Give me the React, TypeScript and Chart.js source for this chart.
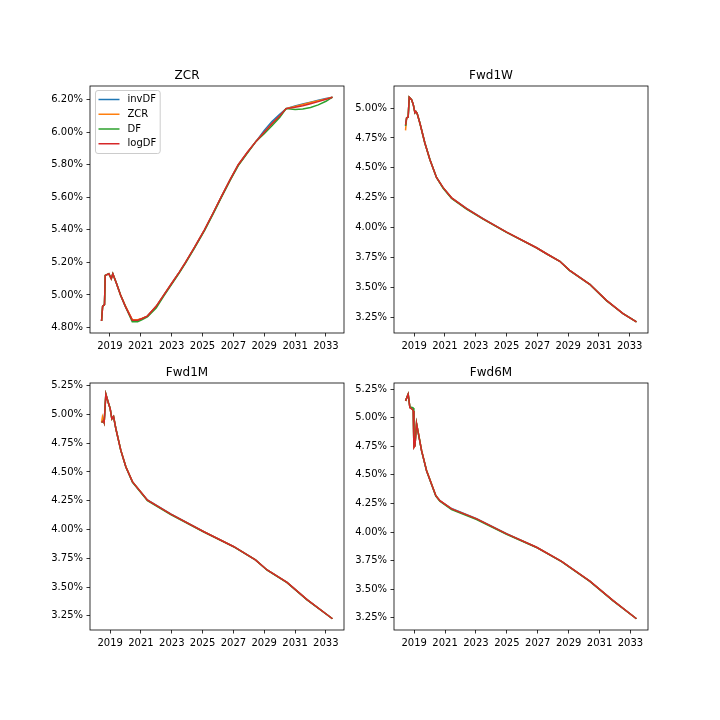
import React, { useEffect, useRef } from 'react';
import { Chart, registerables } from 'chart.js';

Chart.register(...registerables);
Chart.defaults.font.family = '"DejaVu Sans", sans-serif';

const seriesNames = ['invDF', 'ZCR', 'DF', 'logDF'];
const seriesColors = ['#1f77b4', '#ff7f0e', '#2ca02c', '#d62728'];
const xTickYears = [2019, 2021, 2023, 2025, 2027, 2029, 2031, 2033];
const zcrTicks = [4.8, 5.0, 5.2, 5.4, 5.6, 5.8, 6.0, 6.2];
const fwdTicks = [3.25, 3.5, 3.75, 4.0, 4.25, 4.5, 4.75, 5.0, 5.25];

// ---- Panel ZCR ----
const zcrYears = [2018.46, 2018.53, 2018.65, 2018.70, 2018.93, 2019.09, 2019.19, 2019.43, 2019.69, 2020.00, 2020.45, 2020.80, 2021.10, 2021.43, 2022.00, 2022.50, 2023.00, 2023.50, 2023.90, 2024.50, 2025.13, 2025.70, 2026.20, 2026.80, 2027.32, 2027.90, 2028.48, 2029.00, 2029.50, 2030.00, 2030.42, 2031.00, 2031.50, 2032.00, 2032.50, 2033.00, 2033.42];
const zcrInvDF = [4.84, 4.93, 4.94, 5.12, 5.13, 5.10, 5.13, 5.07, 5.00, 4.93, 4.845, 4.845, 4.855, 4.87, 4.93, 5.00, 5.07, 5.14, 5.20, 5.295, 5.40, 5.505, 5.60, 5.71, 5.80, 5.875, 5.945, 6.010, 6.065, 6.110, 6.145, 6.161, 6.173, 6.185, 6.196, 6.207, 6.215];
const zcrZCR = [4.84, 4.93, 4.94, 5.12, 5.13, 5.10, 5.13, 5.07, 5.00, 4.935, 4.848, 4.848, 4.857, 4.87, 4.93, 5.00, 5.07, 5.14, 5.20, 5.295, 5.40, 5.505, 5.60, 5.71, 5.80, 5.875, 5.945, 5.999, 6.054, 6.100, 6.145, 6.158, 6.170, 6.182, 6.193, 6.205, 6.215];
const zcrDF = [4.84, 4.93, 4.94, 5.12, 5.13, 5.10, 5.13, 5.07, 5.00, 4.93, 4.835, 4.835, 4.848, 4.865, 4.92, 4.995, 5.065, 5.135, 5.195, 5.29, 5.395, 5.50, 5.595, 5.705, 5.795, 5.87, 5.945, 5.990, 6.040, 6.090, 6.145, 6.140, 6.142, 6.152, 6.168, 6.190, 6.215];
const zcrLogDF = [4.84, 4.93, 4.94, 5.12, 5.13, 5.10, 5.13, 5.07, 5.00, 4.93, 4.845, 4.845, 4.855, 4.87, 4.93, 5.00, 5.07, 5.14, 5.20, 5.295, 5.40, 5.505, 5.60, 5.71, 5.80, 5.875, 5.945, 6.000, 6.052, 6.100, 6.145, 6.153, 6.163, 6.175, 6.188, 6.202, 6.215];

// ---- Panel Fwd1W ----
const fwd1wYears = [2018.44, 2018.51, 2018.61, 2018.68, 2018.83, 2018.94, 2019.05, 2019.11, 2019.19, 2019.37, 2019.69, 2020.02, 2020.45, 2020.88, 2021.43, 2022.40, 2023.48, 2025.00, 2026.95, 2027.60, 2028.46, 2029.10, 2030.41, 2031.49, 2032.57, 2033.44];
const fwd1wInvDF = [4.85, 4.917, 4.925, 5.09, 5.07, 5.03, 4.96, 4.97, 4.955, 4.875, 4.71, 4.57, 4.42, 4.335, 4.25, 4.162, 4.077, 3.964, 3.833, 3.783, 3.72, 3.644, 3.528, 3.394, 3.283, 3.215];
const fwd1wZCR = [4.813, 4.917, 4.925, 5.09, 5.07, 5.03, 4.96, 4.97, 4.955, 4.875, 4.71, 4.57, 4.42, 4.335, 4.25, 4.16, 4.075, 3.963, 3.833, 3.783, 3.72, 3.644, 3.528, 3.394, 3.283, 3.215];
const fwd1wDF = [4.85, 4.917, 4.925, 5.09, 5.07, 5.03, 4.96, 4.97, 4.955, 4.875, 4.71, 4.57, 4.42, 4.33, 4.245, 4.155, 4.072, 3.961, 3.832, 3.782, 3.72, 3.642, 3.527, 3.392, 3.282, 3.215];
const fwd1wLogDF = [4.86, 4.917, 4.925, 5.09, 5.07, 5.03, 4.96, 4.97, 4.955, 4.875, 4.71, 4.57, 4.42, 4.335, 4.25, 4.16, 4.075, 3.963, 3.833, 3.783, 3.72, 3.644, 3.528, 3.394, 3.283, 3.215];

// ---- Panel Fwd1M ----
const fwd1mYears = [2018.44, 2018.50, 2018.57, 2018.61, 2018.72, 2018.87, 2019.00, 2019.11, 2019.22, 2019.37, 2019.69, 2020.02, 2020.45, 2021.42, 2022.93, 2025.08, 2027.03, 2028.43, 2029.19, 2030.48, 2031.78, 2033.43];
const fwd1mInvDF = [4.93, 4.935, 4.947, 4.93, 5.175, 5.106, 5.05, 4.96, 4.98, 4.875, 4.687, 4.543, 4.413, 4.256, 4.135, 3.981, 3.85, 3.735, 3.648, 3.54, 3.39, 3.224];
const fwd1mZCR = [4.93, 4.98, 4.947, 4.93, 5.175, 5.106, 5.05, 4.96, 4.98, 4.875, 4.69, 4.546, 4.415, 4.254, 4.133, 3.98, 3.85, 3.735, 3.648, 3.54, 3.39, 3.224];
const fwd1mDF = [4.93, 4.935, 4.947, 4.93, 5.175, 5.106, 5.05, 4.96, 4.98, 4.875, 4.687, 4.543, 4.41, 4.25, 4.13, 3.978, 3.849, 3.735, 3.646, 3.538, 3.388, 3.224];
const fwd1mLogDF = [4.93, 4.935, 4.947, 4.93, 5.175, 5.106, 5.05, 4.96, 4.98, 4.875, 4.687, 4.543, 4.413, 4.254, 4.133, 3.98, 3.85, 3.735, 3.648, 3.54, 3.39, 3.224];

// ---- Panel Fwd6M ----
const fwd6mYears = [2018.44, 2018.61, 2018.72, 2018.87, 2018.94, 2018.98, 2019.05, 2019.15, 2019.26, 2019.48, 2019.80, 2020.40, 2020.66, 2021.42, 2023.04, 2024.98, 2026.92, 2028.54, 2030.37, 2031.88, 2033.39];
const fwd6mInvDF = [5.148, 5.206, 5.09, 5.075, 5.06, 4.74, 4.755, 4.95, 4.87, 4.71, 4.536, 4.318, 4.276, 4.206, 4.117, 3.985, 3.867, 3.744, 3.57, 3.40, 3.241];
const fwd6mZCR = [5.148, 5.206, 5.09, 5.075, 5.06, 4.74, 4.755, 4.95, 4.875, 4.715, 4.54, 4.32, 4.274, 4.202, 4.115, 3.984, 3.867, 3.744, 3.57, 3.40, 3.241];
const fwd6mDF = [5.148, 5.206, 5.095, 5.09, 5.085, 4.75, 4.755, 4.95, 4.87, 4.71, 4.536, 4.315, 4.27, 4.196, 4.11, 3.981, 3.865, 3.742, 3.568, 3.398, 3.241];
const fwd6mLogDF = [5.148, 5.206, 5.09, 5.075, 5.06, 4.74, 4.755, 4.95, 4.87, 4.71, 4.536, 4.318, 4.274, 4.202, 4.115, 3.984, 3.867, 3.744, 3.57, 3.40, 3.241];

const AX_W = 254;
const AX_H = 247;
const Y_AXIS_W = 60;
const TITLE_H = 30;
const X_AXIS_H = 30;
const PAD_R = 10;

function bounds(vals: number[]): [number, number] {
  const lo = Math.min(...vals);
  const hi = Math.max(...vals);
  const m = (hi - lo) * 0.05;
  return [lo - m, hi + m];
}

const framePlugin = {
  id: 'frame',
  afterDraw(chart: any) {
    const { ctx, chartArea: a } = chart;
    ctx.save();
    ctx.strokeStyle = '#000';
    ctx.lineWidth = 0.8;
    ctx.strokeRect(a.left, a.top, a.right - a.left, a.bottom - a.top);
    ctx.restore();
  },
};

const innerLegendPlugin = {
  id: 'innerLegend',
  afterDraw(chart: any) {
    const { ctx, chartArea: a } = chart;
    const ds = chart.data.datasets;
    ctx.save();
    ctx.font = '10px "DejaVu Sans", sans-serif';
    const textW = Math.max(...ds.map((d: any) => ctx.measureText(d.label).width));
    const x0 = a.left + 5.5;
    const y0 = a.top + 4.5;
    const w = 32 + textW + 4;
    const h = 63;
    const r = 2.5;
    ctx.beginPath();
    ctx.moveTo(x0 + r, y0);
    ctx.lineTo(x0 + w - r, y0);
    ctx.quadraticCurveTo(x0 + w, y0, x0 + w, y0 + r);
    ctx.lineTo(x0 + w, y0 + h - r);
    ctx.quadraticCurveTo(x0 + w, y0 + h, x0 + w - r, y0 + h);
    ctx.lineTo(x0 + r, y0 + h);
    ctx.quadraticCurveTo(x0, y0 + h, x0, y0 + h - r);
    ctx.lineTo(x0, y0 + r);
    ctx.quadraticCurveTo(x0, y0, x0 + r, y0);
    ctx.closePath();
    ctx.fillStyle = 'rgba(255,255,255,0.8)';
    ctx.fill();
    ctx.strokeStyle = '#cccccc';
    ctx.lineWidth = 1;
    ctx.stroke();
    ds.forEach((d: any, i: number) => {
      const cy = y0 + 9 + i * 14.75;
      ctx.strokeStyle = d.borderColor;
      ctx.lineWidth = 1.5;
      ctx.beginPath();
      ctx.moveTo(x0 + 3, cy);
      ctx.lineTo(x0 + 24, cy);
      ctx.stroke();
      ctx.fillStyle = '#000';
      ctx.textBaseline = 'middle';
      ctx.textAlign = 'left';
      ctx.fillText(d.label, x0 + 32, cy);
    });
    ctx.restore();
  },
};

type PanelProps = {
  title: string;
  years: number[];
  series: number[][];
  yTicks: number[];
  left: number;
  top: number;
  legend?: boolean;
};

function Panel({ title, years, series, yTicks, left, top, legend }: PanelProps) {
  const ref = useRef<HTMLCanvasElement | null>(null);
  const cw = Y_AXIS_W + AX_W + PAD_R;
  const chh = TITLE_H + AX_H + X_AXIS_H;

  useEffect(() => {
    if (!ref.current) return;
    const [xMin, xMax] = bounds(years);
    const [yMin, yMax] = bounds(series.flat());
    const ticksY = yTicks.filter((v) => v >= yMin && v <= yMax);
    const chart = new Chart(ref.current, {
      type: 'line',
      data: {
        datasets: series.map((vals, i) => ({
          label: seriesNames[i],
          data: years.map((x, j) => ({ x, y: vals[j] })),
          borderColor: seriesColors[i],
          backgroundColor: seriesColors[i],
          borderWidth: 1.5,
          pointRadius: 0,
          tension: 0,
          fill: false,
          order: series.length - 1 - i,
        })),
      },
      options: {
        responsive: false,
        animation: false,
        devicePixelRatio: 1,
        events: [],
        layout: { padding: { left: 0, right: PAD_R, top: 0, bottom: 0 } },
        plugins: {
          legend: { display: false },
          tooltip: { enabled: false },
          title: {
            display: true,
            text: title,
            color: '#000',
            font: { size: 12, weight: 'normal', lineHeight: 1.2 },
            padding: { top: 12.6, bottom: 3 },
          },
        },
        scales: {
          x: {
            type: 'linear',
            min: xMin,
            max: xMax,
            afterBuildTicks: (axis: any) => {
              axis.ticks = xTickYears.map((v) => ({ value: v }));
            },
            afterFit: (axis: any) => {
              axis.height = X_AXIS_H;
            },
            ticks: {
              autoSkip: false,
              maxRotation: 0,
              color: '#000',
              font: { size: 10 },
              padding: 3.5,
              callback: (v: any) => String(v),
            },
            grid: {
              display: true,
              drawOnChartArea: false,
              drawTicks: true,
              tickLength: 3.5,
              tickColor: '#000',
              tickWidth: 0.8,
            },
            border: { display: false },
          },
          y: {
            type: 'linear',
            min: yMin,
            max: yMax,
            afterBuildTicks: (axis: any) => {
              axis.ticks = ticksY.map((v) => ({ value: v }));
            },
            afterFit: (axis: any) => {
              axis.width = Y_AXIS_W;
            },
            ticks: {
              autoSkip: false,
              color: '#000',
              font: { size: 10 },
              padding: 3.5,
              callback: (v: any) => Number(v).toFixed(2) + '%',
            },
            grid: {
              display: true,
              drawOnChartArea: false,
              drawTicks: true,
              tickLength: 3.5,
              tickColor: '#000',
              tickWidth: 0.8,
            },
            border: { display: false },
          },
        },
      } as any,
      plugins: legend ? [framePlugin, innerLegendPlugin] : [framePlugin],
    });
    return () => chart.destroy();
  }, []);

  return (
    <canvas
      ref={ref}
      width={cw}
      height={chh}
      style={{
        position: 'absolute',
        left: left - Y_AXIS_W,
        top: top - TITLE_H,
        width: cw,
        height: chh,
        display: 'block',
      }}
    />
  );
}

export default function App() {
  return (
    <div
      style={{
        position: 'absolute',
        left: 0,
        top: 0,
        width: 720,
        height: 720,
        background: '#fff',
        overflow: 'hidden',
      }}
    >
      <Panel title="ZCR" years={zcrYears} series={[zcrInvDF, zcrZCR, zcrDF, zcrLogDF]} yTicks={zcrTicks} left={90} top={86} legend />
      <Panel title="Fwd1W" years={fwd1wYears} series={[fwd1wInvDF, fwd1wZCR, fwd1wDF, fwd1wLogDF]} yTicks={fwdTicks} left={394} top={86} />
      <Panel title="Fwd1M" years={fwd1mYears} series={[fwd1mInvDF, fwd1mZCR, fwd1mDF, fwd1mLogDF]} yTicks={fwdTicks} left={90} top={383} />
      <Panel title="Fwd6M" years={fwd6mYears} series={[fwd6mInvDF, fwd6mZCR, fwd6mDF, fwd6mLogDF]} yTicks={fwdTicks} left={394} top={383} />
    </div>
  );
}
